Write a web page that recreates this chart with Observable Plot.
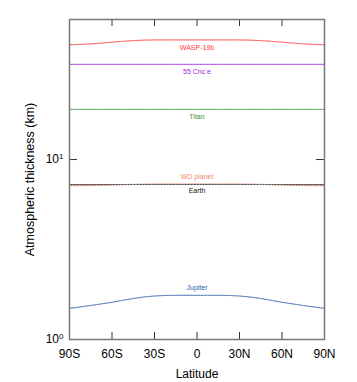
<!DOCTYPE html>
<html><head><meta charset="utf-8">
<script src="https://cdn.jsdelivr.net/npm/d3@7"></script>
<script src="https://cdn.jsdelivr.net/npm/@observablehq/plot@0.6"></script>
<style>body{margin:0;background:#fff}svg{font-family:"Liberation Sans",Arial,sans-serif}</style>
</head><body><div id="chart"></div>
<script>
const latitudes = [-90,-75,-60,-45,-30,-15,0,15,30,45,60,75,90];
const wasp19b = [43.4,43.9,44.9,45.8,46.2,46.2,46.2,46.2,46.2,45.8,44.9,43.9,43.4];
const cnc55e  = [33.8,33.8,33.8,33.8,33.8,33.8,33.8,33.8,33.8,33.8,33.8,33.8,33.8];
const titan   = [19.0,19.0,19.0,19.0,19.0,19.0,19.0,19.0,19.0,19.0,19.0,19.0,19.0];
const wdPlanet= [7.15,7.17,7.22,7.27,7.3,7.3,7.3,7.3,7.3,7.27,7.22,7.17,7.15];
const earth   = [7.25,7.25,7.26,7.27,7.27,7.27,7.27,7.27,7.27,7.27,7.26,7.25,7.25];
const jupiter = [1.49,1.545,1.61,1.69,1.745,1.76,1.76,1.76,1.745,1.69,1.61,1.545,1.49];
const seriesNames = ["WASP-19b","55 Cnc e","Titan","WD planet","Earth","Jupiter"];
const seriesValues = [wasp19b,cnc55e,titan,wdPlanet,earth,jupiter];
const seriesColors = ["#ff3b3b","#a020e0","#3a963a","#f08a6a","#111111","#2e5fa8"];
const xTicks = [-90,-60,-30,0,30,60,90];
const xTickLabels = ["90S","60S","30S","0","30N","60N","90N"];
const yTicks = [1,10];

const labelDy = {"WASP-19b":8,"55 Cnc e":7,"Titan":7,"WD planet":-7,"Earth":6.5,"Jupiter":-8};

const rows = [];
seriesNames.forEach((n,i)=>latitudes.forEach((lat,j)=>rows.push({name:n,lat,v:seriesValues[i][j]})));
const labels = seriesNames.map((n,i)=>({name:n,lat:0,v:seriesValues[i][6],color:seriesColors[i]}));

const W=357,H=382,mL=69,mR=33,mT=19,mB=43;
const fh=H-mT-mB, fw=W-mL-mR;

const chart = Plot.plot({
  width:W,height:H,marginLeft:mL,marginRight:mR,marginTop:mT,marginBottom:mB,
  style:{fontFamily:"Liberation Sans, Arial, sans-serif",background:"#fff"},
  x:{domain:[-90,90]},
  y:{type:"log",domain:[1,60]},
  color:{domain:seriesNames,range:seriesColors},
  marks:[
    Plot.line(rows,{x:"lat",y:"v",z:"name",stroke:"name",strokeWidth:1,curve:"monotone-x"}),
    Plot.line(rows,{x:"lat",y:"v",z:"name",stroke:"#ffffff",strokeOpacity:0.35,strokeWidth:1,strokeDasharray:"1.5,1.5",curve:"monotone-x"}),
    ...labels.map(l=>Plot.text([l],{x:"lat",y:"v",text:"name",fill:l.color,fontSize:7,dy:labelDy[l.name]})),
    Plot.tickX(xTicks,{x:d=>d,stroke:"#333",insetTop:fh-7}),
    Plot.tickX(xTicks,{x:d=>d,stroke:"#333",insetBottom:fh-7}),
    Plot.tickY([10],{y:d=>d,stroke:"#333",insetRight:fw-8}),
    Plot.tickY([10],{y:d=>d,stroke:"#333",insetLeft:fw-8}),
    Plot.frame({stroke:"#777",strokeWidth:1.5}),
    Plot.axisX(xTicks,{tickSize:0,tickPadding:10,fontSize:12,fill:"#000",tickFormat:d=>xTickLabels[xTicks.indexOf(d)],label:"Latitude",labelAnchor:"center",labelArrow:"none",labelOffset:38}),
    Plot.axisY(yTicks,{tickSize:0,tickPadding:6,fontSize:12,fill:"#000",tickFormat:d=>String(d),label:"Atmospheric thickness (km)",labelAnchor:"center",labelArrow:"none",labelOffset:44})
  ]
});
document.getElementById("chart").appendChild(chart);
// superscript exponents on y tick labels
d3.select(chart).selectAll('g[aria-label="y-axis tick label"] text').each(function(){
  const t = d3.select(this);
  const v = +t.text();
  const e = Math.round(Math.log10(v));
  t.text("10");
  t.append("tspan").attr("dy","-0.5em").attr("font-size","8").text(String(e));
});
d3.select(chart).selectAll('g[aria-label="x-axis label"] text').attr("font-size",12).attr("fill","#000");
d3.select(chart).selectAll('g[aria-label="y-axis label"] text').attr("font-size",12.5).attr("fill","#000");
</script></body></html>
